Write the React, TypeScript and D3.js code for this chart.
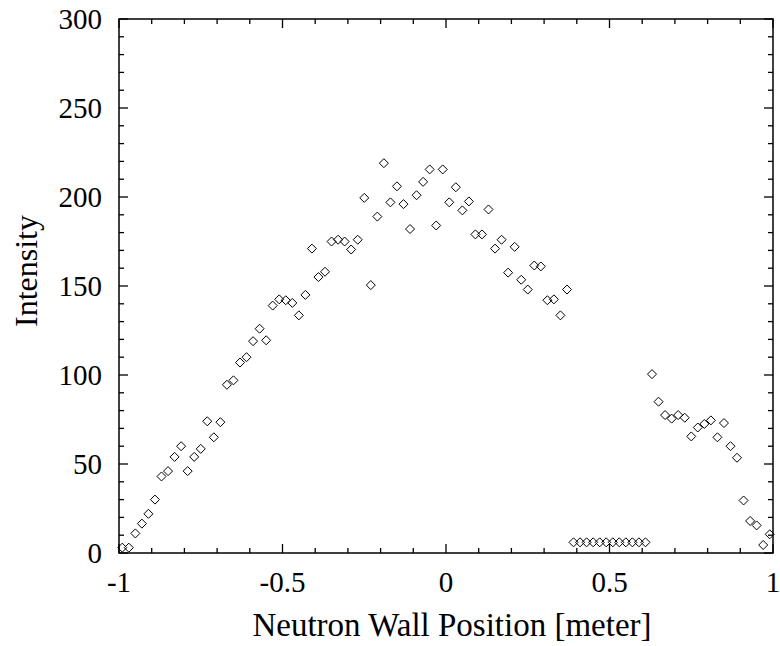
import React from "react";
import * as d3 from "d3";

const positions: number[] = d3.range(100).map((i) => -0.99 + 0.02 * i);
const intensity: number[] = [
  3, 3, 11, 16.5, 22, 30, 43, 46, 54, 60,
  46, 54, 58.5, 74, 65, 73.5, 94.5, 97, 107, 110,
  119, 126, 119.5, 139, 142.5, 142, 140.5, 133.5, 145, 171,
  155, 158, 175, 176, 175, 170.5, 176, 199.5, 150.5, 189,
  219, 197, 206, 196, 182, 201, 208.5, 215.5, 184, 215.5,
  197, 205.5, 192.5, 197.5, 179, 179, 193, 171, 176, 157.5,
  172, 153.5, 148, 161.5, 161, 142, 142.5, 133.5, 148, 6,
  6, 6, 6, 6, 6, 6, 6, 6, 6, 6,
  6, 100.5, 85, 77.5, 75.5, 77.5, 76, 65.5, 70.5, 72.5,
  74.5, 65, 73, 60, 53.5, 29.5, 18, 15.5, 4.5, 10.5,
];
const xTickValues: number[] = [-1, -0.5, 0, 0.5, 1];
const xTickLabels: string[] = ["-1", "-0.5", "0", "0.5", "1"];
const yTickValues: number[] = [0, 50, 100, 150, 200, 250, 300];
const xTitle = "Neutron Wall Position [meter]";
const yTitle = "Intensity";

const W = 780;
const H = 646;
const left = 119;
const right = 773;
const top = 19;
const bottom = 553;
const font = "'Liberation Serif', 'Times New Roman', serif";

export default function App() {
  const x = d3.scaleLinear().domain([-1, 1]).range([left, right]);
  const y = d3.scaleLinear().domain([0, 300]).range([bottom, top]);
  const xMinor = d3.range(-10, 11).map((v) => v / 10);
  const yMinor = d3.range(0, 31).map((v) => v * 10);
  const major = 9;
  const minor = 5;
  const isXMajor = (v: number) => Math.abs(v * 2 - Math.round(v * 2)) < 1e-9;
  const isYMajor = (v: number) => v % 50 === 0;
  const diamond = (cx: number, cy: number) => {
    const r = 4.5;
    return `M${cx},${cy - r}L${cx + r},${cy}L${cx},${cy + r}L${cx - r},${cy}Z`;
  };
  return (
    <svg
      width={W}
      height={H}
      style={{ position: "absolute", left: 0, top: 0, background: "#fff" }}
    >
      <rect x={0} y={0} width={W} height={H} fill="#fff" />
      <g stroke="#000" strokeWidth={1.3} fill="none">
        {xMinor.map((v, i) => {
          const len = isXMajor(v) ? major : minor;
          const px = x(v);
          return (
            <g key={"xt" + i}>
              <line x1={px} x2={px} y1={bottom} y2={bottom - len} />
              <line x1={px} x2={px} y1={top} y2={top + len} />
            </g>
          );
        })}
        {yMinor.map((v, i) => {
          const len = isYMajor(v) ? major : minor;
          const py = y(v);
          return (
            <g key={"yt" + i}>
              <line x1={left} x2={left + len} y1={py} y2={py} />
              <line x1={right} x2={right - len} y1={py} y2={py} />
            </g>
          );
        })}
        <rect x={left} y={top} width={right - left} height={bottom - top} strokeWidth={1.5} />
      </g>
      <g fill="none" stroke="#000" strokeWidth={1}>
        {positions.map((p, i) => (
          <path key={"pt" + i} d={diamond(x(p), y(intensity[i]))} />
        ))}
      </g>
      <g fontFamily={font} fill="#000">
        {yTickValues.map((v) => (
          <text key={"yl" + v} x={left - 17} y={y(v)} dy="0.35em" textAnchor="end" fontSize={29}>
            {v}
          </text>
        ))}
        {xTickValues.map((v, i) => (
          <text key={"xl" + v} x={x(v)} y={592} textAnchor="middle" fontSize={29}>
            {xTickLabels[i]}
          </text>
        ))}
        <text x={452} y={636} textAnchor="middle" fontSize={33}>
          {xTitle}
        </text>
        <text
          transform={`translate(${37},${271}) rotate(-90)`}
          textAnchor="middle"
          fontSize={32}
        >
          {yTitle}
        </text>
      </g>
    </svg>
  );
}
